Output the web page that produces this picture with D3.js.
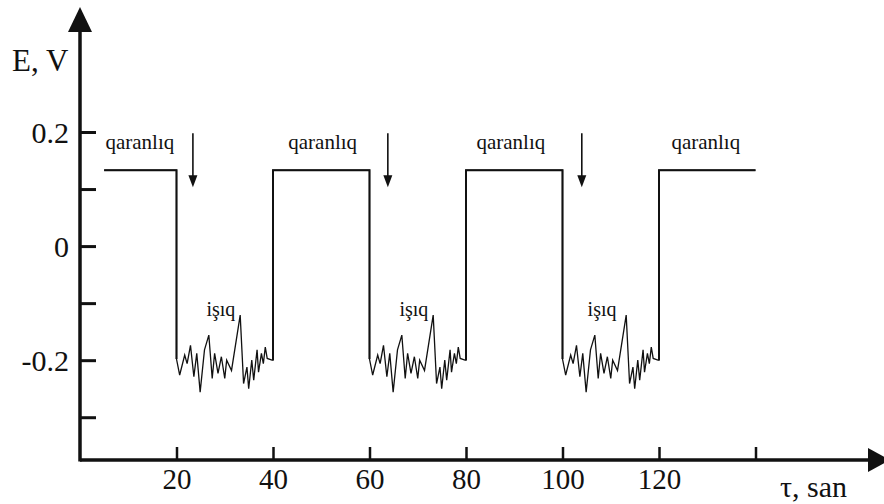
<!DOCTYPE html>
<html>
<head>
<meta charset="utf-8">
<script src="https://cdn.jsdelivr.net/npm/d3@7/dist/d3.min.js"></script>
<style>
  #chart text { font-family: 'Liberation Serif', 'Times New Roman', serif !important; }
</style>
</head>
<body style="margin:0;background:#fff">
<svg id="chart" width="884" height="504" font-family="Liberation Serif" style="display:block"></svg>
<script>
// ---- data ----
const xTicks = [20, 40, 60, 80, 100, 120, 140];
const xTickLabels = ["20", "40", "60", "80", "100", "120", ""];
const yTicks = [0.2, 0.1, 0, -0.1, -0.2, -0.3];
const yLabelValues = [0.2, 0, -0.2];
const yLabelTexts = ["0.2", "0", "-0.2"];
const darkLevel = 0.133;
const darkPeriods = [[5, 20], [40, 60], [80, 100], [120, 140]];
const lightPeriods = [[20, 40], [60, 80], [100, 120]];
// noise: time offset within a light period, E value
const noiseOffset = [0, 0.66, 1.7, 2.2, 2.9, 3.6, 4.2, 4.9, 5.8, 6.7, 7.4, 7.9, 8.6, 9.3, 10.0, 10.4, 11.4,
  13.2, 13.9, 14.6, 14.96, 15.6, 16.0, 16.7, 17.0, 17.6, 18.0, 18.4, 18.8, 19.8, 20];
const noiseE = [-0.198, -0.226, -0.191, -0.206, -0.174, -0.229, -0.188, -0.256, -0.182, -0.156, -0.232, -0.188,
  -0.223, -0.194, -0.232, -0.200, -0.218, -0.121, -0.241, -0.212, -0.250, -0.200, -0.235, -0.182, -0.221,
  -0.188, -0.206, -0.177, -0.197, -0.200, -0.200];
const darkLabel = "qaranlıq";
const darkLabelT = [12.4, 50.3, 89.3, 129.7];
const lightLabel = "işıq";
const lightLabelT = [29.2, 69.2, 108.2];
const arrowT = [23.4, 63.8, 104.0];
const arrowTopE = 0.198, arrowTipE = 0.103;
const xAxisTitle = "τ, san";
const yAxisTitle = "E, V";

// ---- scales ----
const svg = d3.select("#chart");
const x = d3.scaleLinear().domain([0, 140]).range([80, 755.5]);
const y = d3.scaleLinear().domain([-0.375, 0.2]).range([460, 132]);
const yTop = 0.419;

function txt(sel, size) {
  return sel.attr("font-family", "Liberation Serif")
    .style("font-family", "'Liberation Serif', 'Times New Roman', serif", "important")
    .style("font-size", size + "px").style("fill", "#111");
}

// ---- axes ----
const ax = svg.append("g");
ax.append("line").attr("x1", x(0)).attr("x2", 868).attr("y1", y(-0.375)).attr("y2", y(-0.375))
  .attr("stroke", "#111").attr("stroke-width", 3.5);
ax.append("path").attr("d", `M868,${y(-0.375) - 12} L890,${y(-0.375)} L868,${y(-0.375) + 12} Z`).attr("fill", "#111");
ax.append("line").attr("x1", x(0)).attr("x2", x(0)).attr("y1", y(-0.375) + 1.5).attr("y2", y(yTop) + 22)
  .attr("stroke", "#111").attr("stroke-width", 3.5);
ax.append("path").attr("d", `M${x(0) - 12},${y(yTop) + 25} L${x(0)},${y(yTop)} L${x(0) + 12},${y(yTop) + 25} Z`).attr("fill", "#111");

// ticks via d3 axis
const xAxis = d3.axisBottom(x).tickValues(xTicks).tickSize(-13).tickFormat((d, i) => xTickLabels[i]);
const gx = svg.append("g").attr("transform", `translate(0,${y(-0.375)})`).call(xAxis);
gx.attr("font-family", "Liberation Serif").attr("font-size", null);
gx.select(".domain").remove();
gx.selectAll(".tick line").attr("stroke", "#111").attr("stroke-width", 2.5);
txt(gx.selectAll(".tick text"), 29).attr("y", 8).attr("dy", "0.71em");

const yAxis = d3.axisLeft(y).tickValues(yTicks).tickSize(-16).tickFormat(() => "");
const gy = svg.append("g").attr("transform", `translate(${x(0)},0)`).call(yAxis);
gy.attr("font-family", "Liberation Serif");
gy.select(".domain").remove();
gy.selectAll(".tick line").attr("stroke", "#111").attr("stroke-width", 3);

txt(svg.append("g").selectAll("text").data(yLabelValues).join("text"), 30)
  .attr("x", 69).attr("y", d => y(d)).attr("dy", "0.36em")
  .attr("text-anchor", "end")
  .text((d, i) => yLabelTexts[i]);

txt(svg.append("text"), 31).attr("x", 12).attr("y", 71).text(yAxisTitle);
txt(svg.append("text"), 30).attr("x", 780).attr("y", 497).text(xAxisTitle);

// ---- signal ----
const pts = [];
darkPeriods.forEach((p, i) => {
  pts.push([p[0], darkLevel], [p[1], darkLevel]);
  const lp = lightPeriods.find(l => l[0] === p[1]);
  if (lp) noiseOffset.forEach((o, j) => pts.push([lp[0] + o, noiseE[j]]));
});
const line = d3.line().x(d => x(d[0])).y(d => y(d[1]));
svg.append("path").attr("d", line(pts)).attr("fill", "none").attr("stroke", "#111")
  .attr("stroke-width", 1.3).attr("stroke-linejoin", "miter");

// heavier dark segments and transitions
const heavy = [];
darkPeriods.forEach(p => {
  const seg = [];
  const prevLight = lightPeriods.find(l => l[1] === p[0]);
  if (prevLight) seg.push([p[0], noiseE[noiseE.length - 1]]);
  seg.push([p[0], darkLevel], [p[1], darkLevel]);
  const nextLight = lightPeriods.find(l => l[0] === p[1]);
  if (nextLight) seg.push([p[1], noiseE[0]]);
  heavy.push(seg);
});
svg.append("g").selectAll("path").data(heavy).join("path")
  .attr("d", line).attr("fill", "none").attr("stroke", "#111").attr("stroke-width", 2);

// ---- labels ----
txt(svg.append("g").selectAll("text").data(darkLabelT).join("text"), 21)
  .attr("x", d => x(d)).attr("y", 149).attr("text-anchor", "middle")
  .text(darkLabel);
txt(svg.append("g").selectAll("text").data(lightLabelT).join("text"), 20)
  .attr("x", d => x(d)).attr("y", 316).attr("text-anchor", "middle")
  .text(lightLabel);

// ---- arrows ----
const ga = svg.append("g");
arrowT.forEach(t => {
  ga.append("line").attr("x1", x(t)).attr("x2", x(t)).attr("y1", y(arrowTopE)).attr("y2", y(arrowTipE) - 8)
    .attr("stroke", "#111").attr("stroke-width", 1.6);
  ga.append("path").attr("d", `M${x(t) - 4.5},${y(arrowTipE) - 12} L${x(t)},${y(arrowTipE)} L${x(t) + 4.5},${y(arrowTipE) - 12} Z`)
    .attr("fill", "#111");
});
</script>
</body>
</html>
